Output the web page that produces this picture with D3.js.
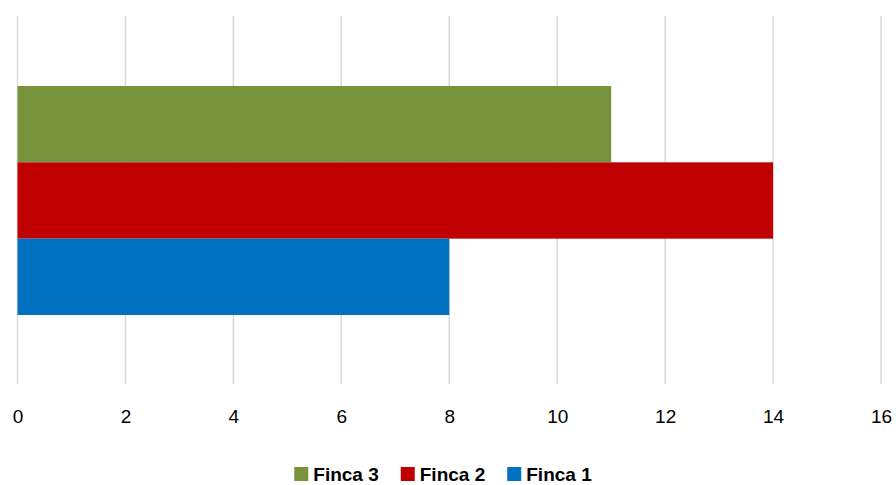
<!DOCTYPE html>
<html>
<head>
<meta charset="utf-8">
<script src="https://cdn.jsdelivr.net/npm/d3@7"></script>
<style>
  html, body { margin: 0; padding: 0; background: #ffffff; }
  svg { display: block; }
</style>
</head>
<body>
<svg id="chart" width="896" height="485"></svg>
<script>
const series = ["Finca 3", "Finca 2", "Finca 1"];
const values = [11, 14, 8];
const colors = ["#77933c", "#c00000", "#0070c0"];
const tickValues = [0, 2, 4, 6, 8, 10, 12, 14, 16];
const legendOrder = ["Finca 3", "Finca 2", "Finca 1"];

const svg = d3.select("#chart");
const font = "'Liberation Sans', Arial, sans-serif";

const plotTop = 16, plotBottom = 384;
const x = d3.scaleLinear().domain([0, 16]).range([17.5, 881]);

// gridlines
svg.append("g").selectAll("line").data(tickValues).join("line")
  .attr("x1", d => x(d)).attr("x2", d => x(d))
  .attr("y1", plotTop).attr("y2", plotBottom)
  .attr("stroke", "#d9d9d9").attr("stroke-width", 1.5);

// bars
const y = d3.scaleBand().domain(series).range([86, 315]).padding(0);

svg.append("g").selectAll("rect").data(series).join("rect")
  .attr("x", x(0))
  .attr("y", d => y(d))
  .attr("width", (d, i) => x(values[i]) - x(0))
  .attr("height", y.bandwidth())
  .attr("fill", (d, i) => colors[i]);

// axis labels
const axis = d3.axisBottom(x).tickValues(tickValues).tickSize(0).tickPadding(0);
const gAxis = svg.append("g").attr("transform", `translate(0, ${plotBottom})`).call(axis);
gAxis.select(".domain").remove();
gAxis.selectAll("text")
  .attr("y", 39)
  .attr("dy", 0)
  .attr("font-family", font)
  .attr("font-size", "19px")
  .attr("fill", "#000");

// legend
const legend = svg.append("g").attr("class", "legend");
const items = legend.selectAll("g").data(legendOrder).join("g");
items.append("rect")
  .attr("width", 14).attr("height", 14)
  .attr("y", 467)
  .attr("fill", d => colors[series.indexOf(d)]);
items.append("text")
  .attr("x", 19).attr("y", 481)
  .attr("font-family", font)
  .attr("font-weight", "bold")
  .attr("font-size", "19px")
  .attr("fill", "#000")
  .text(d => d);

let widths = [];
items.each(function () { widths.push(19 + this.querySelector("text").getComputedTextLength()); });
const gap = 22;
const total = d3.sum(widths) + gap * (widths.length - 1);
let cx = 443 - total / 2;
items.each(function (d, i) {
  d3.select(this).attr("transform", `translate(${cx},0)`);
  cx += widths[i] + gap;
});
</script>
</body>
</html>
